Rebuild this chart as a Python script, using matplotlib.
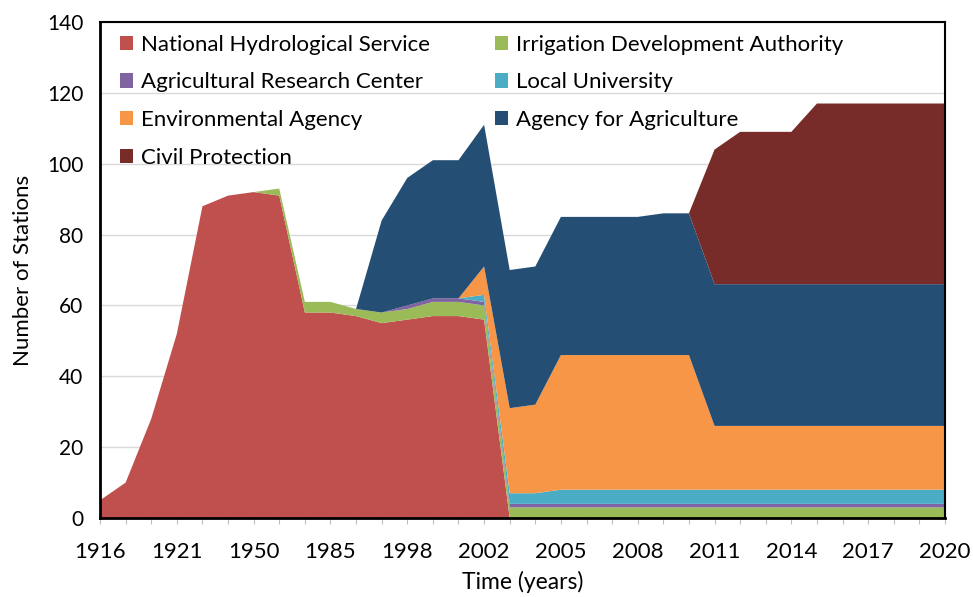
import numpy as np
import matplotlib
matplotlib.use('Agg')
import matplotlib.pyplot as plt

# categories (every 3rd one is labelled on the axis)
years = ['1916', '1918', '1919', '1921', '1930', '1940', '1950', '1960', '1970',
         '1985', '1990', '1995', '1998', '2000', '2001', '2002'] + \
        [str(y) for y in range(2003, 2021)]

nhs = [5, 10, 28, 52, 88, 91, 92, 91, 58, 58, 57, 55, 56, 57, 57, 56,
       0, 0, 0, 0, 0, 0, 0, 0, 0, 0, 0, 0, 0, 0, 0, 0, 0, 0]
irrigation = [0, 0, 0, 0, 0, 0, 0, 2, 3, 3, 2, 3, 3, 4, 4, 4,
              3, 3, 3, 3, 3, 3, 3, 3, 3, 3, 3, 3, 3, 3, 3, 3, 3, 3]
agr_research = [0, 0, 0, 0, 0, 0, 0, 0, 0, 0, 0, 0, 1, 1, 1, 1,
                1, 1, 1, 1, 1, 1, 1, 1, 1, 1, 1, 1, 1, 1, 1, 1, 1, 1]
local_univ = [0, 0, 0, 0, 0, 0, 0, 0, 0, 0, 0, 0, 0, 0, 0, 2,
              3, 3, 4, 4, 4, 4, 4, 4, 4, 4, 4, 4, 4, 4, 4, 4, 4, 4]
environmental = [0, 0, 0, 0, 0, 0, 0, 0, 0, 0, 0, 0, 0, 0, 0, 8,
                 24, 25, 38, 38, 38, 38, 38, 38, 18, 18, 18, 18, 18, 18, 18, 18, 18, 18]
agency_agri = [0, 0, 0, 0, 0, 0, 0, 0, 0, 0, 0, 26, 36, 39, 39, 40,
               39, 39, 39, 39, 39, 39, 40, 40, 40, 40, 40, 40, 40, 40, 40, 40, 40, 40]
civil = [0, 0, 0, 0, 0, 0, 0, 0, 0, 0, 0, 0, 0, 0, 0, 0,
         0, 0, 0, 0, 0, 0, 0, 0, 38, 43, 43, 43, 51, 51, 51, 51, 51, 51]

series = [nhs, irrigation, agr_research, local_univ, environmental, agency_agri, civil]
labels = ['National Hydrological Service', 'Irrigation Development Authority',
          'Agricultural Research Center', 'Local University',
          'Environmental Agency', 'Agency for Agriculture', 'Civil Protection']
colors = ['#C0504D', '#9BBB59', '#8064A2', '#4BACC6', '#F79646', '#254E75', '#772C2A']

plt.rcParams['font.family'] = ['Lato', 'DejaVu Sans']

fig = plt.figure(figsize=(9.73, 5.97), dpi=100)
ax = fig.add_axes([0.1028, 0.1323, 0.8684, 0.8308])

x = np.arange(len(years))
ax.stackplot(x, *series, labels=labels, colors=colors, linewidth=0)

ax.set_xlim(0, len(years) - 1)
ax.set_ylim(0, 140)
ax.set_yticks(np.arange(0, 141, 20))
ax.yaxis.grid(True, color='#D9D9D9', linewidth=1)
ax.set_axisbelow(True)

ax.set_xticks(x)
ax.set_xticklabels([y if i % 3 == 0 else '' for i, y in enumerate(years)])
ax.tick_params(axis='x', length=4, color='#BFBFBF', labelsize=16, pad=13)
ax.tick_params(axis='y', length=0, labelsize=15, pad=12)

for s in ax.spines.values():
    s.set_color('black')
    s.set_linewidth(1.5)
ax.spines['left'].set_linewidth(2)
ax.spines['bottom'].set_linewidth(2)

ax.set_ylabel('Number of Stations', fontsize=16, labelpad=10)
ax.set_xlabel('Time (years)', fontsize=16.5, labelpad=7)

handles, lbls = ax.get_legend_handles_labels()
order = [0, 2, 4, 6, 1, 3, 5]
ax.legend([handles[i] for i in order], [lbls[i] for i in order],
          loc='upper left', ncol=2, frameon=False, fontsize=16,
          handlelength=0.6, handleheight=0.6, handletextpad=0.35,
          columnspacing=2.9, labelspacing=0.8,
          bbox_to_anchor=(0.0, 1.015))

plt.savefig('out.png', dpi=100)
